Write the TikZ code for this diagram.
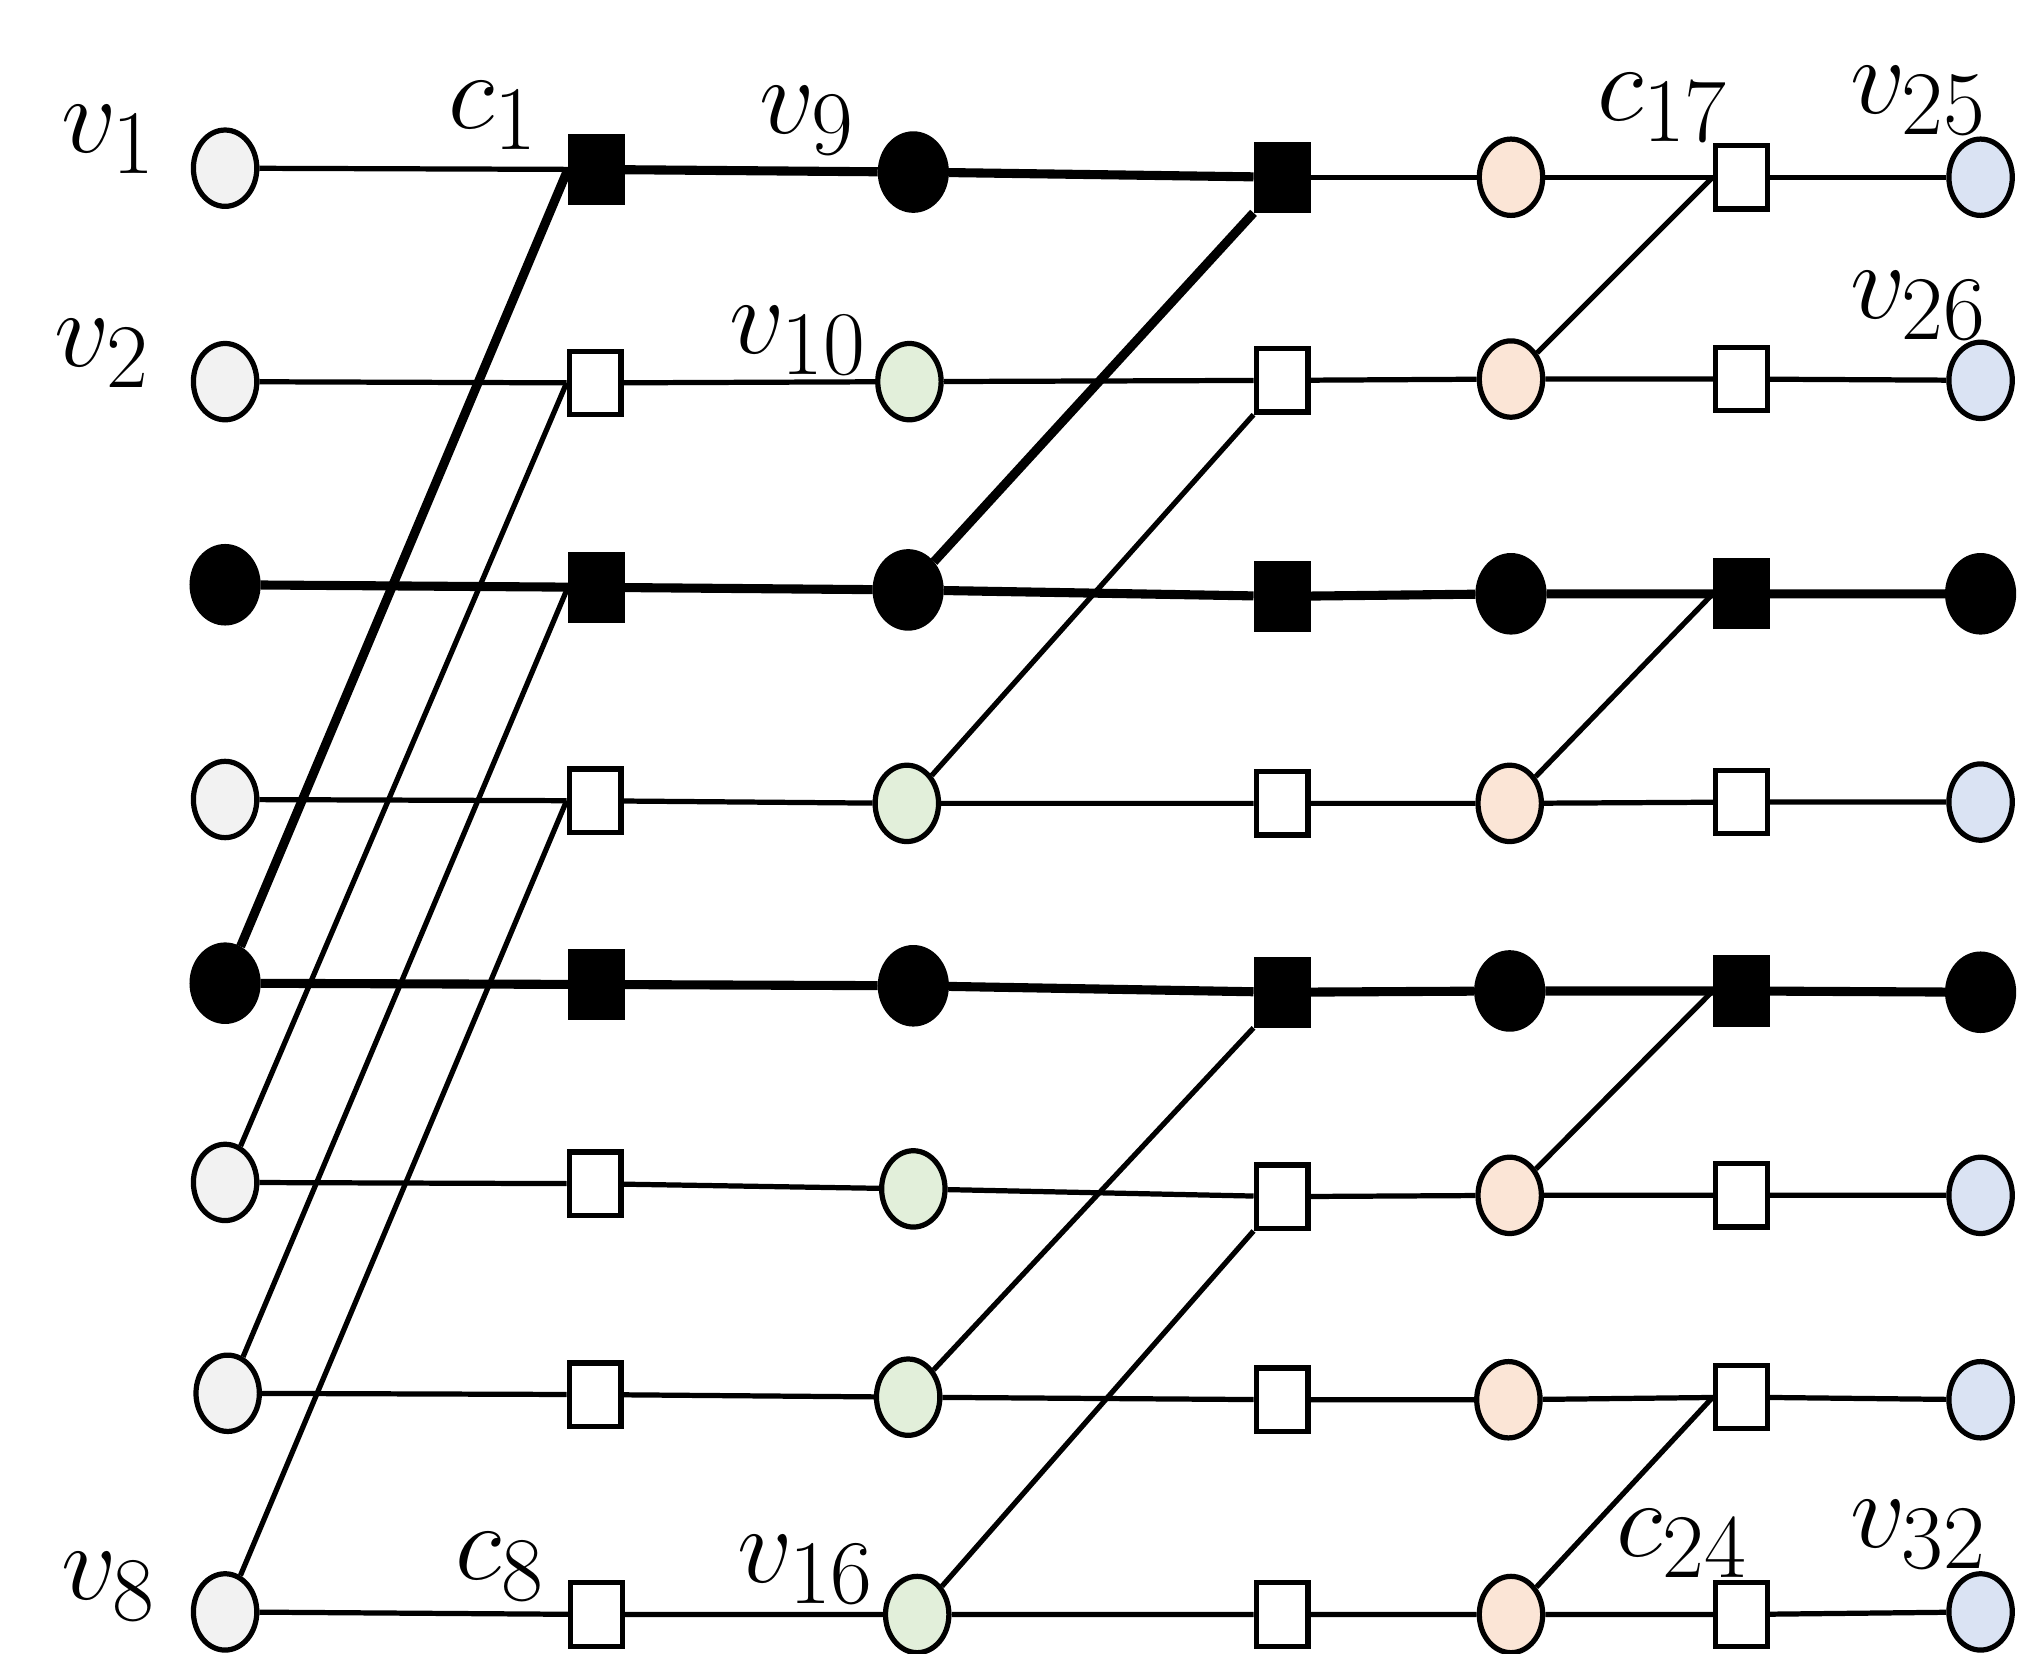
\RequirePackage{fix-cm}
\documentclass[tikz,border=0pt]{standalone}
\usetikzlibrary{positioning, shapes.geometric}
\DeclareMathSizes{24}{24}{20}{16}
\definecolor{vgray}{HTML}{F2F2F2}
\definecolor{vgreen}{HTML}{E2EFDA}
\definecolor{vpeach}{HTML}{FBE5D6}
\definecolor{vblue}{HTML}{DAE3F3}
\tikzset{
  vnode/.style={ellipse, draw, line width=1.15pt, minimum width=0.49cm, minimum height=0.59cm, inner sep=0pt},
  graynode/.style={vnode, fill=vgray},
  greennode/.style={vnode, fill=vgreen},
  peachnode/.style={vnode, fill=vpeach},
  bluenode/.style={vnode, fill=vblue},
  blacknode/.style={vnode, fill=black, minimum width=0.51cm},
  cnode/.style={rectangle, draw, line width=1.15pt, fill=white, minimum width=0.40cm, minimum height=0.49cm, inner sep=0pt},
  blackcnode/.style={cnode, fill=black, minimum height=0.51cm},
  wire/.style={line width=1.15pt},
  thickwire/.style={line width=2pt},
  lbl/.style={inner sep=0pt, font=\fontsize{24}{28}\selectfont},
}

\begin{document}
\begin{tikzpicture}

    \useasboundingbox (0,0) rectangle (15.63,-12.78);

    % Nodes
    \node (v1) [graynode] at (1.74,-1.30) {};
    \node (v2) [graynode] at (1.74,-2.95) {};
    \node (v3) [blacknode] at (1.74,-4.52) {};
    \node (v4) [graynode] at (1.74,-6.18) {};
    \node (v5) [blacknode] at (1.74,-7.60) {};
    \node (v6) [graynode] at (1.74,-9.14) {};
    \node (v7) [graynode] at (1.76,-10.77) {};
    \node (v8) [graynode] at (1.74,-12.46) {};

    \node (c1) [blackcnode] at (4.61,-1.31) {};
    \node (c2) [cnode] at (4.60,-2.96) {};
    \node (c3) [blackcnode] at (4.61,-4.54) {};
    \node (c4) [cnode] at (4.60,-6.19) {};
    \node (c5) [blackcnode] at (4.61,-7.61) {};
    \node (c6) [cnode] at (4.60,-9.15) {};
    \node (c7) [cnode] at (4.60,-10.78) {};
    \node (c8) [cnode] at (4.61,-12.48) {};

    \node (v9) [blacknode] at (7.06,-1.33) {};
    \node (v10) [greennode] at (7.03,-2.95) {};
    \node (v11) [blacknode] at (7.02,-4.56) {};
    \node (v12) [greennode] at (7.01,-6.21) {};
    \node (v13) [blacknode] at (7.06,-7.62) {};
    \node (v14) [greennode] at (7.06,-9.19) {};
    \node (v15) [greennode] at (7.02,-10.80) {};
    \node (v16) [greennode] at (7.09,-12.48) {};

    \node (c9) [blackcnode] at (9.91,-1.37) {};
    \node (c10) [cnode] at (9.91,-2.94) {};
    \node (c11) [blackcnode] at (9.91,-4.61) {};
    \node (c12) [cnode] at (9.91,-6.21) {};
    \node (c13) [blackcnode] at (9.91,-7.67) {};
    \node (c14) [cnode] at (9.91,-9.25) {};
    \node (c15) [cnode] at (9.91,-10.82) {};
    \node (c16) [cnode] at (9.91,-12.48) {};

    \node (v17) [peachnode] at (11.68,-1.37) {};
    \node (v18) [peachnode] at (11.68,-2.93) {};
    \node (v19) [blacknode] at (11.68,-4.59) {};
    \node (v20) [peachnode] at (11.67,-6.21) {};
    \node (v21) [blacknode] at (11.67,-7.66) {};
    \node (v22) [peachnode] at (11.67,-9.24) {};
    \node (v23) [peachnode] at (11.66,-10.82) {};
    \node (v24) [peachnode] at (11.68,-12.48) {};

    \node (c17) [cnode] at (13.46,-1.37) {};
    \node (c18) [cnode] at (13.46,-2.93) {};
    \node (c19) [blackcnode] at (13.46,-4.59) {};
    \node (c20) [cnode] at (13.46,-6.20) {};
    \node (c21) [blackcnode] at (13.46,-7.66) {};
    \node (c22) [cnode] at (13.46,-9.24) {};
    \node (c23) [cnode] at (13.46,-10.80) {};
    \node (c24) [cnode] at (13.46,-12.48) {};

    \node (v25) [bluenode] at (15.31,-1.37) {};
    \node (v26) [bluenode] at (15.31,-2.94) {};
    \node (v27) [blacknode] at (15.31,-4.59) {};
    \node (v28) [bluenode] at (15.31,-6.20) {};
    \node (v29) [blacknode] at (15.31,-7.67) {};
    \node (v30) [bluenode] at (15.31,-9.24) {};
    \node (v31) [bluenode] at (15.31,-10.82) {};
    \node (v32) [bluenode] at (15.31,-12.46) {};

    % Labels
    \node (lv1) [lbl, above left=-0.05cm and 0.52cm of v1.center] {$v_1$};
    \node (lv2) [lbl, above left=-0.05cm and 0.57cm of v2.center] {$v_2$};
    \node (lv8) [lbl, above left=-0.07cm and 0.52cm of v8.center] {$v_8$};
    \node (lc1) [lbl, above left=0.15cm and 0.44cm of c1.center] {$c_1$};
    \node (lc8) [lbl, above left=0.10cm and 0.39cm of c8.center] {$c_8$};
    \node (lv9) [lbl, above left=0.13cm and 0.44cm of v9.center] {$v_9$};
    \node (lv10) [lbl, above left=0.05cm and 0.32cm of v10.center] {$v_{10}$};
    \node (lv16) [lbl, above left=0.08cm and 0.32cm of v16.center] {$v_{16}$};
    \node (lc17) [lbl, above left=0.27cm and 0.09cm of c17.center] {$c_{17}$};
    \node (lc24) [lbl, above left=0.28cm and -0.06cm of c24.center] {$c_{24}$};
    \node (lv25) [lbl, above left=0.32cm and -0.06cm of v25.center] {$v_{25}$};
    \node (lv26) [lbl, above left=0.31cm and -0.06cm of v26.center] {$v_{26}$};
    \node (lv32) [lbl, above left=0.33cm and -0.06cm of v32.center] {$v_{32}$};

    % Connectors
    \begin{scope}[wire]

        % rows
        \draw (v1) -- (c1);
        \draw [thickwire] (c1) -- (v9) -- (c9);
        \draw (c9) -- (v17) -- (c17) -- (v25);
        \draw (v2) -- (c2) -- (v10) -- (c10) -- (v18) -- (c18) -- (v26);
        \draw [thickwire] (v3) -- (c3) -- (v11) -- (c11) -- (v19) -- (c19) -- (v27);
        \draw (v4) -- (c4) -- (v12) -- (c12) -- (v20) -- (c20) -- (v28);
        \draw [thickwire] (v5) -- (c5) -- (v13) -- (c13) -- (v21) -- (c21) -- (v29);
        \draw (v6) -- (c6) -- (v14) -- (c14) -- (v22) -- (c22) -- (v30);
        \draw (v7) -- (c7) -- (v15) -- (c15) -- (v23) -- (c23) -- (v31);
        \draw (v8) -- (c8) -- (v16) -- (c16) -- (v24) -- (c24) -- (v32);

        % crossings
        \draw [thickwire] (v5) -- (c1.west);
        \draw (v6) -- (c2.west);
        \draw (v7) -- (c3.west);
        \draw (v8) -- (c4.west);
        \draw [thickwire] (v11) -- (c9.south west);
        \draw (v12) -- (c10.south west);
        \draw (v15) -- (c13.south west);
        \draw (v16) -- (c14.south west);
        \draw (v18) -- (c17.west);
        \draw (v20) -- (c19.west);
        \draw (v22) -- (c21.west);
        \draw (v24) -- (c23.west);

    \end{scope}

\end{tikzpicture}
\end{document}
